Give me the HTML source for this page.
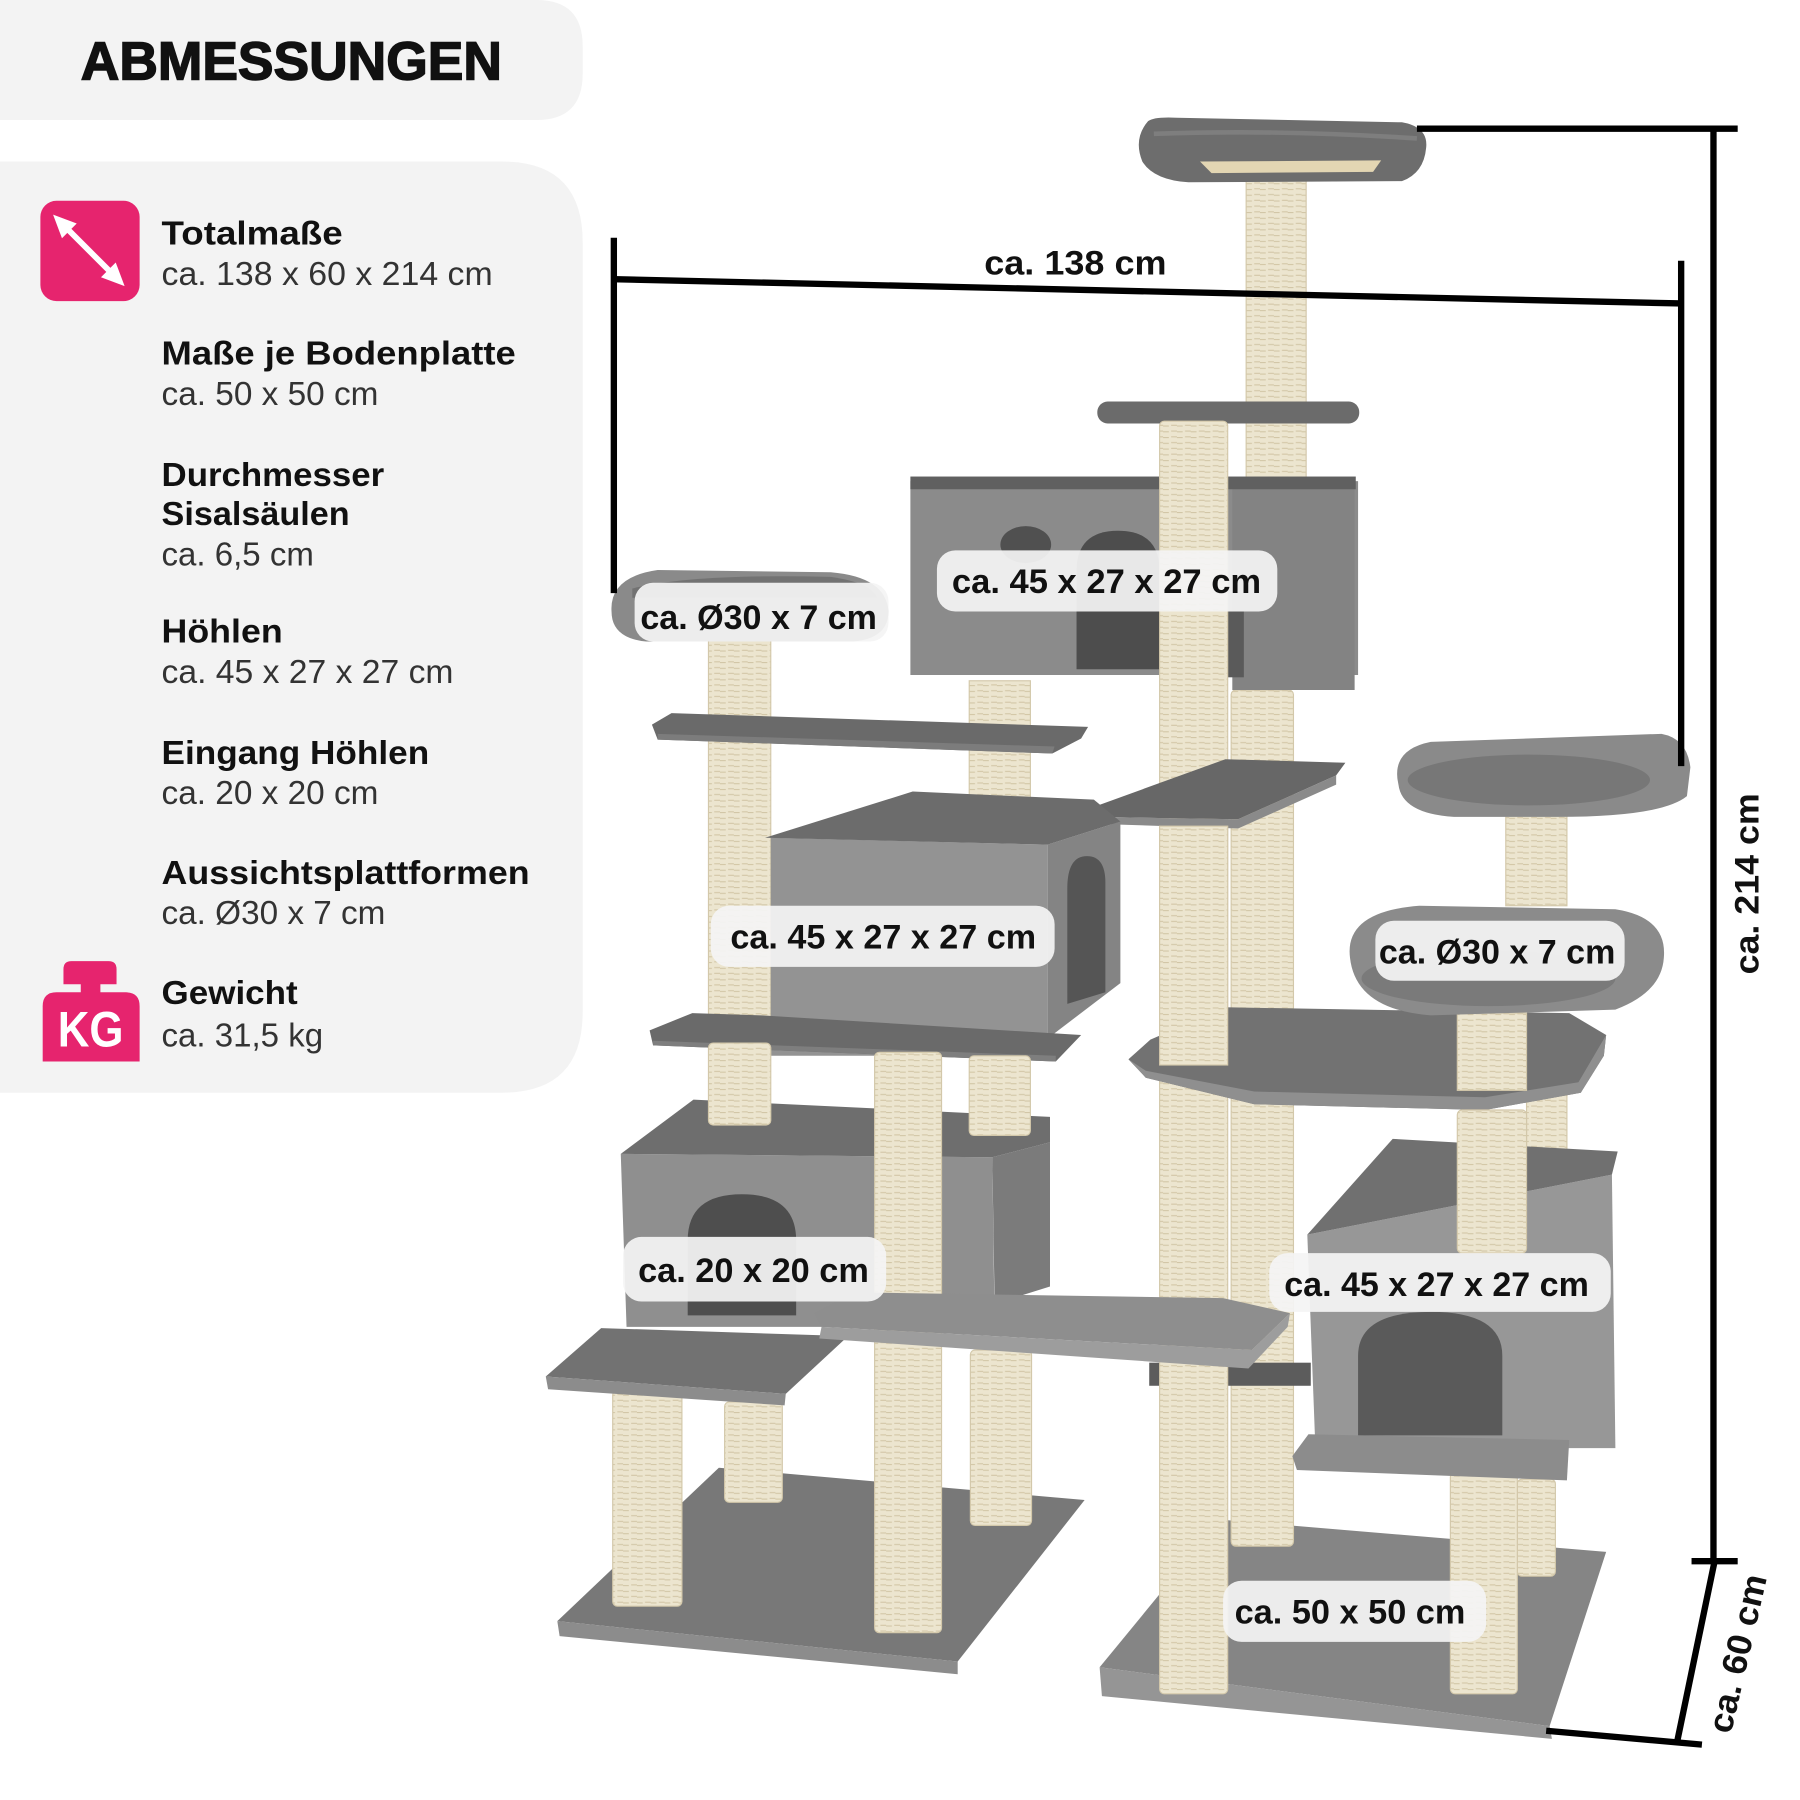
<!DOCTYPE html>
<html><head><meta charset="utf-8">
<style>
html,body{margin:0;padding:0;background:#fff}
svg{display:block}
.h{font-family:"Liberation Sans",sans-serif;font-weight:bold;font-size:29px;fill:#111}
.r{font-family:"Liberation Sans",sans-serif;font-weight:normal;font-size:29px;fill:#333}
.lb{font-family:"Liberation Sans",sans-serif;font-weight:bold;font-size:30px;fill:#111}
.p{fill:url(#sis);stroke:#d3c8aa;stroke-width:1}
.pill{fill:#f4f4f4;fill-opacity:0.93}
.dl{stroke:#000;stroke-width:5.5;fill:none}
</style></head>
<body>
<svg xmlns="http://www.w3.org/2000/svg" width="1800" height="1800" viewBox="0 0 1560 1560">
<defs>
<pattern id="sis" width="12" height="5" patternUnits="userSpaceOnUse">
<rect width="12" height="5" fill="#ece5cf"/>
<path d="M0 4.2h5M7 3.6h5" stroke="#d2c6a6" stroke-width="1"/>
</pattern>
</defs>
<rect width="1560" height="1560" fill="#fff"/>

<!-- LEFT PANELS -->
<path d="M0 0H465Q505 0 505 40V64Q505 104 465 104H0Z" fill="#f3f3f3"/>
<path d="M0 140H435Q505 140 505 210V877Q505 947 435 947H0Z" fill="#f3f3f3"/>
<text x="70" y="69" font-family="Liberation Sans, sans-serif" font-weight="bold" font-size="47" fill="#111" stroke="#111" stroke-width="1.3" textLength="365" lengthAdjust="spacingAndGlyphs">ABMESSUNGEN</text>

<!-- arrow icon -->
<rect x="35" y="174" width="86" height="87" rx="14" fill="#e6246e"/>
<line x1="58" y1="198" x2="97" y2="237" stroke="#fff" stroke-width="5"/>
<polygon points="46,186 66.5,193.7 53.7,206.5" fill="#fff"/>
<polygon points="108,248 100.3,227.5 87.5,240.3" fill="#fff"/>

<!-- KG icon -->
<path d="M55 853V840Q55 833 62 833H94Q101 833 101 840V853Z" fill="#e6246e"/>
<rect x="70" y="852" width="17" height="9" fill="#e6246e"/>
<path d="M37 920V872Q37 860 49 860H109Q121 860 121 872V920Z" fill="#e6246e"/>
<text x="50" y="907" font-family="Liberation Sans, sans-serif" font-weight="bold" font-size="43" fill="#fff" textLength="57" lengthAdjust="spacingAndGlyphs">KG</text>

<text class="h" x="140" y="212" textLength="157" lengthAdjust="spacingAndGlyphs">Totalmaße</text>
<text class="r" x="140" y="247" textLength="287" lengthAdjust="spacingAndGlyphs">ca. 138 x 60 x 214 cm</text>
<text class="h" x="140" y="316" textLength="307" lengthAdjust="spacingAndGlyphs">Maße je Bodenplatte</text>
<text class="r" x="140" y="351" textLength="188" lengthAdjust="spacingAndGlyphs">ca. 50 x 50 cm</text>
<text class="h" x="140" y="421" textLength="193" lengthAdjust="spacingAndGlyphs">Durchmesser</text>
<text class="h" x="140" y="455" textLength="163" lengthAdjust="spacingAndGlyphs">Sisalsäulen</text>
<text class="r" x="140" y="490" textLength="132" lengthAdjust="spacingAndGlyphs">ca. 6,5 cm</text>
<text class="h" x="140" y="557" textLength="105" lengthAdjust="spacingAndGlyphs">Höhlen</text>
<text class="r" x="140" y="592" textLength="253" lengthAdjust="spacingAndGlyphs">ca. 45 x 27 x 27 cm</text>
<text class="h" x="140" y="662" textLength="232" lengthAdjust="spacingAndGlyphs">Eingang Höhlen</text>
<text class="r" x="140" y="697" textLength="188" lengthAdjust="spacingAndGlyphs">ca. 20 x 20 cm</text>
<text class="h" x="140" y="766" textLength="319" lengthAdjust="spacingAndGlyphs">Aussichtsplattformen</text>
<text class="r" x="140" y="801" textLength="194" lengthAdjust="spacingAndGlyphs">ca. Ø30 x 7 cm</text>
<text class="h" x="140" y="870" textLength="118" lengthAdjust="spacingAndGlyphs">Gewicht</text>
<text class="r" x="140" y="907" textLength="140" lengthAdjust="spacingAndGlyphs">ca. 31,5 kg</text>

<!-- BASES -->
<polygon points="483,1405 623,1272 940,1300 830,1440" fill="#787878"/>
<polygon points="483,1405 830,1440 830,1451 485,1418" fill="#8c8c8c"/>
<polygon points="953,1445 1058,1317 1392,1345 1343,1496" fill="#858585"/>
<polygon points="953,1445 1343,1496 1345,1507 955,1470" fill="#959595"/>

<!-- back posts -->
<rect class="p" x="531" y="1205" width="60" height="187" rx="4"/>
<rect class="p" x="628" y="1215" width="50" height="87" rx="4"/>
<rect class="p" x="841" y="1170" width="53" height="152" rx="4"/>
<rect class="p" x="1067" y="598" width="54" height="742" rx="4"/>
<rect class="p" x="1315" y="1282" width="33" height="84" rx="4"/>
<rect class="p" x="1257" y="1276" width="58" height="192" rx="4"/>
<rect class="p" x="840" y="590" width="53" height="120"/>
<rect class="p" x="1323" y="940" width="35" height="75" rx="4"/>
<rect class="p" x="1305" y="705" width="53" height="80"/>
<rect class="p" x="1080" y="143" width="52" height="277"/>
<rect class="p" x="614" y="553" width="54" height="342"/>
<!-- dark underside of plank 3 -->
<rect x="996" y="1181" width="140" height="20" fill="#5c5c5c"/>

<!-- top bowl -->
<path d="M995 105Q1000 101 1020 102L1215 106Q1238 110 1236 128Q1234 150 1215 157L1030 158Q1000 156 990 140Q982 120 995 105Z" fill="#6d6d6d"/>
<path d="M1000 116Q1110 112 1228 120" stroke="#7e7e7e" stroke-width="4" fill="none"/>
<path d="M1040 140L1197 139L1190 149L1050 150Z" fill="#e3d6b3"/>
<!-- small platform -->
<rect x="951" y="348" width="227" height="19" rx="9" fill="#6b6b6b"/>

<!-- CAVE 1 -->
<rect x="789" y="417" width="388" height="168" fill="#8b8b8b"/>
<rect x="1068" y="420" width="106" height="178" fill="#838383"/>
<rect x="789" y="413" width="386" height="11" fill="#606060"/>
<ellipse cx="889" cy="472" rx="22" ry="16" fill="#505050"/>
<path d="M933 580V495Q933 460 969 460Q1005 460 1005 495V580Z" fill="#4d4d4d"/>
<rect x="1062" y="530" width="16" height="57" fill="#5a5a5a"/>

<!-- central post -->
<rect class="p" x="1005" y="365" width="59" height="1103" rx="4"/>

<!-- plank 4 -->
<polygon points="946,700 1062,658 1166,661 1158,672 1073,710 949,708" fill="#676767"/>
<polygon points="949,708 1073,710 1158,672 1158,680 1073,718 950,714" fill="#8a8a8a"/>

<!-- round platform right 1 -->
<path d="M1212 680Q1205 650 1240 643L1440 636Q1462 640 1465 665L1462 690Q1440 708 1350 708L1260 708Q1215 705 1212 680Z" fill="#8a8a8a"/>
<ellipse cx="1325" cy="676" rx="105" ry="22" fill="#777"/>

<!-- round platform left -->
<path d="M530 530Q528 500 570 494L720 496Q768 500 770 530Q770 553 740 556L560 556Q530 553 530 530Z" fill="#8a8a8a"/>
<path d="M548 510Q600 497 720 500Q755 505 760 518L548 518Z" fill="#727272"/>

<!-- plank 1 -->
<polygon points="565,628 582,618 943,630 937,640 912,653 570,641" fill="#6a6a6a"/>
<polygon points="570,636 914,647 912,653 570,641" fill="#7c7c7c"/>

<!-- CAVE 2 -->
<polygon points="668,726 908,732 908,915 668,915" fill="#939393"/>
<polygon points="908,732 971,712 971,852 908,900" fill="#848484"/>
<polygon points="663,726 791,686 948,693 971,712 908,732" fill="#6c6c6c"/>
<path d="M925 870V770Q925 742 942 742Q958 742 958 765V860Z" fill="#555"/>

<!-- plank 2 -->
<polygon points="563,893 600,878 660,880 937,897 915,920 566,906" fill="#6a6a6a"/>
<polygon points="566,902 915,915 915,920 566,906" fill="#7e7e7e"/>

<!-- CAVE 3 -->
<polygon points="538,1000 860,1003 862,1150 543,1150" fill="#8f8f8f"/>
<polygon points="860,1003 910,990 910,1115 862,1130" fill="#7b7b7b"/>
<polygon points="538,1000 601,953 910,968 910,990 860,1003" fill="#6e6e6e"/>
<path d="M596 1140V1075Q596 1035 643 1035Q690 1035 690 1075V1140Z" fill="#4e4e4e"/>

<!-- posts standing on cave 3 -->
<rect class="p" x="614" y="904" width="54" height="71" rx="4"/>
<rect class="p" x="840" y="915" width="53" height="69" rx="4"/>
<!-- post C -->
<rect class="p" x="758" y="912" width="58" height="503" rx="4"/>

<!-- step platform -->
<polygon points="473,1193 521,1151 735,1158 681,1208" fill="#727272"/>
<polygon points="473,1193 681,1208 680,1218 475,1204" fill="#8c8c8c"/>

<!-- plank 3 -->
<polygon points="706,1138 740,1120 1060,1125 1118,1138 1085,1170 712,1150" fill="#8e8e8e"/>
<polygon points="712,1150 1085,1170 1118,1138 1116,1150 1082,1186 710,1160" fill="#9d9d9d"/>

<!-- platform 5 -->
<polygon points="978,918 997,901 1062,873 1360,878 1392,897 1390,915 1370,947 1287,962 1087,957 993,934" fill="#727272"/>
<polygon points="978,918 993,928 1087,946 1287,951 1368,938 1392,897 1390,915 1370,947 1287,962 1087,957 993,934" fill="#8f8f8f"/>

<!-- redraw posts standing on platform 5 -->
<rect class="p" x="1005" y="716" width="59" height="207"/>
<rect class="p" x="1263" y="878" width="60" height="67"/>

<!-- round platform right 2 -->
<path d="M1170 830Q1165 790 1230 785L1400 788Q1445 795 1442 830Q1440 860 1400 875L1240 880Q1175 875 1170 830Z" fill="#8b8b8b"/>
<ellipse cx="1290" cy="848" rx="110" ry="24" fill="#7a7a7a"/>

<!-- CAVE 4 -->
<polygon points="1133,1070 1397,1018 1400,1255 1140,1255" fill="#979797"/>
<polygon points="1133,1070 1207,987 1402,998 1397,1018" fill="#707070"/>
<path d="M1177 1244V1175Q1177 1137 1240 1137Q1302 1137 1302 1175V1244Z" fill="#5a5a5a"/>
<polygon points="1120,1262 1134,1243 1360,1248 1358,1283 1124,1274" fill="#8c8c8c"/>
<rect class="p" x="1263" y="962" width="60" height="124" rx="4"/>

<!-- LABEL PILLS -->
<rect class="pill" x="550" y="505" width="220" height="51" rx="16"/>
<text class="lb" x="555" y="545" textLength="205" lengthAdjust="spacingAndGlyphs">ca. Ø30 x 7 cm</text>
<rect class="pill" x="812" y="477" width="295" height="53" rx="16"/>
<text class="lb" x="825" y="514" textLength="268" lengthAdjust="spacingAndGlyphs">ca. 45 x 27 x 27 cm</text>
<rect class="pill" x="616" y="785" width="298" height="53" rx="16"/>
<text class="lb" x="633" y="822" textLength="265" lengthAdjust="spacingAndGlyphs">ca. 45 x 27 x 27 cm</text>
<rect class="pill" x="1192" y="798" width="216" height="52" rx="16"/>
<text class="lb" x="1195" y="835" textLength="205" lengthAdjust="spacingAndGlyphs">ca. Ø30 x 7 cm</text>
<rect class="pill" x="540" y="1072" width="228" height="56" rx="16"/>
<text class="lb" x="553" y="1111" textLength="200" lengthAdjust="spacingAndGlyphs">ca. 20 x 20 cm</text>
<rect class="pill" x="1100" y="1086" width="296" height="51" rx="16"/>
<text class="lb" x="1113" y="1123" textLength="264" lengthAdjust="spacingAndGlyphs">ca. 45 x 27 x 27 cm</text>
<rect class="pill" x="1060" y="1370" width="228" height="53" rx="16"/>
<text class="lb" x="1070" y="1407" textLength="200" lengthAdjust="spacingAndGlyphs">ca. 50 x 50 cm</text>

<!-- DIMENSION LINES -->
<line class="dl" x1="532" y1="206" x2="532" y2="514"/>
<line class="dl" x1="532" y1="242" x2="1457" y2="263"/>
<line class="dl" x1="1457" y1="226" x2="1457" y2="664"/>
<text class="lb" x="853" y="238" textLength="158" lengthAdjust="spacingAndGlyphs">ca. 138  cm</text>

<line class="dl" x1="1228" y1="111.5" x2="1506" y2="111.5"/>
<line class="dl" x1="1485" y1="111" x2="1485" y2="1353"/>
<line class="dl" x1="1466" y1="1353" x2="1506" y2="1353"/>
<line class="dl" x1="1486" y1="1353" x2="1453" y2="1512"/>
<line class="dl" x1="1340" y1="1500" x2="1475" y2="1512"/>
<text class="lb" transform="translate(1514,766) rotate(-90)" x="0" y="10" text-anchor="middle" textLength="157" lengthAdjust="spacingAndGlyphs">ca. 214  cm</text>
<text class="lb" transform="translate(1506,1433) rotate(-77)" x="0" y="10" text-anchor="middle" textLength="140" lengthAdjust="spacingAndGlyphs">ca. 60  cm</text>
</svg>
</body></html>
